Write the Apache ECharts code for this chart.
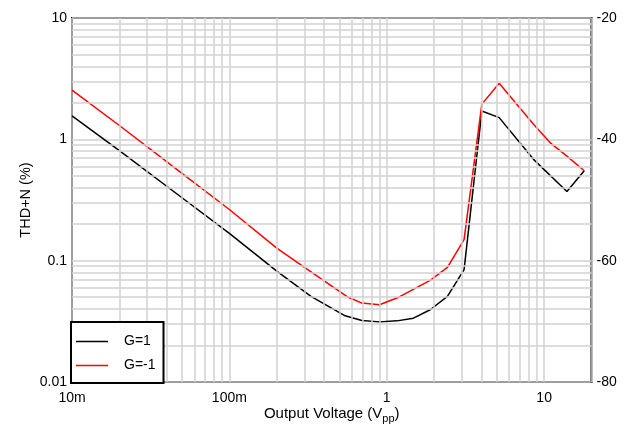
<!DOCTYPE html>
<html><head><meta charset="utf-8">
<script src="https://cdn.jsdelivr.net/npm/echarts@6/dist/echarts.min.js"></script>
<style>html,body{margin:0;padding:0;background:#fff}#c{width:628px;height:427px}</style>
</head><body><div id="c"></div>
<script>
// Output voltage (Vpp) and THD+N (%) for each gain
const voltsG1 = [0.01, 0.02, 0.05, 0.1, 0.2, 0.33, 0.544, 0.695, 0.899, 1.16, 1.478, 1.888, 2.43, 3.10, 4.02, 5.18, 8.56, 13.96, 17.98];
const thdG1   = [1.56, 0.807, 0.33, 0.168, 0.082, 0.0507, 0.0351, 0.0321, 0.0313, 0.0319, 0.0336, 0.0394, 0.0507, 0.0843, 1.71, 1.51, 0.684, 0.372, 0.551];
const voltsGm1 = [0.01, 0.02, 0.05, 0.1, 0.2, 0.3, 0.557, 0.695, 0.899, 1.16, 1.888, 2.43, 3.10, 4.02, 5.18, 8.56, 10.9, 13.96, 17.98];
const thdGm1   = [2.54, 1.30, 0.524, 0.264, 0.127, 0.088, 0.0507, 0.0447, 0.0433, 0.0492, 0.0687, 0.088, 0.149, 1.95, 2.90, 1.33, 0.94, 0.728, 0.551];

const xTickValues = [0.01, 0.1, 1, 10];
const xTickLabels = ['10m', '100m', '1', '10'];
const yTickValues = [0.01, 0.1, 1, 10];
const yTickLabels = ['0.01', '0.1', '1', '10'];
const dbTicks = [-80, -60, -40, -20];

const X_MIN = 0.01, X_MAX = 20, Y_MIN = 0.01, Y_MAX = 10;

function pair(xs, ys) { return xs.map((x, i) => [x, ys[i]]); }
function logFmt(vals, labels) {
  return function (v) {
    const l = Math.log10(v), e = Math.round(l);
    if (Math.abs(l - e) > 1e-6) return '';
    const i = vals.findIndex(t => Math.abs(Math.log10(t) - e) < 1e-6);
    return i < 0 ? '' : labels[i];
  };
}
// minor log grid lines (2..9 per decade)
const minorLines = [];
for (let d = X_MIN; d < X_MAX; d *= 10) {
  for (let m = 2; m <= 9; m++) { const v = d * m; if (v < X_MAX - 1e-9) minorLines.push({ xAxis: v }); }
}
for (let d = Y_MIN; d < Y_MAX; d *= 10) {
  for (let m = 2; m <= 9; m++) { const v = d * m; if (v < Y_MAX) minorLines.push({ yAxis: v }); }
}

const gridColor = '#d2d2d2';
const font = 'Liberation Sans, Arial, sans-serif';
const chart = echarts.init(document.getElementById('c'), null, { renderer: 'canvas' });
chart.setOption({
  animation: false,
  backgroundColor: '#fff',
  textStyle: { fontFamily: font },
  grid: { left: 72, right: 36.5, top: 18, bottom: 45, outerBoundsMode: 'none', containLabel: false,
    show: true, borderColor: '#000', borderWidth: 2, backgroundColor: 'transparent' },
  legend: {
    orient: 'vertical', left: 71, top: 322,
    data: ['G=1', 'G=-1'],
    icon: 'rect',
    itemWidth: 32, itemHeight: 1.5, itemGap: 7,
    padding: [11, 8, 9, 5],
    backgroundColor: '#fff', borderColor: '#000', borderWidth: 2,
    textStyle: { fontFamily: font, fontSize: 14, color: '#000', padding: [0, 0, 0, 11], lineHeight: 17 },
    z: 10
  },
  xAxis: {
    type: 'log', logBase: 10, min: X_MIN, max: X_MAX,
    name: 'Output Voltage (V{sub|pp})', nameLocation: 'middle', nameGap: 21, nameMoveOverlap: false,
    nameTextStyle: { fontFamily: font, fontSize: 15, color: '#000',
      rich: { sub: { fontFamily: font, fontSize: 11, color: '#000', padding: [10, 0, 0, 0] } } },
    axisLine: { show: false }, axisTick: { show: false },
    axisLabel: { formatter: logFmt(xTickValues, xTickLabels), fontSize: 14, color: '#000', margin: 9, fontFamily: font, showMaxLabel: false },
    splitLine: { show: true, lineStyle: { color: gridColor, width: 1.5 } }
  },
  yAxis: [{
    type: 'log', logBase: 10, min: Y_MIN, max: Y_MAX,
    name: 'THD+N (%)', nameLocation: 'middle', nameGap: 39, nameMoveOverlap: false,
    nameTextStyle: { fontFamily: font, fontSize: 14.5, color: '#000' },
    axisLine: { show: false }, axisTick: { show: false },
    axisLabel: { formatter: logFmt(yTickValues, yTickLabels), fontSize: 14, color: '#000', margin: 5, fontFamily: font },
    splitLine: { show: true, lineStyle: { color: gridColor, width: 1.5 } }
  }, {
    type: 'value', position: 'right', min: dbTicks[0], max: dbTicks[dbTicks.length - 1], interval: 20,
    axisLine: { show: false }, axisTick: { show: false }, splitLine: { show: false },
    axisLabel: { fontSize: 14, color: '#000', margin: 5, fontFamily: font }
  }],
  series: [{
    name: 'grid', type: 'line', data: [], z: 1, silent: true,
    markLine: { silent: true, symbol: 'none', label: { show: false }, animation: false,
      lineStyle: { color: gridColor, width: 1.5, type: 'solid' }, emphasis: { disabled: true },
      data: minorLines }
  }, {
    name: 'G=1', type: 'line', data: pair(voltsG1, thdG1), symbol: 'none', z: 3,
    lineStyle: { color: '#000', width: 1.5 }, itemStyle: { color: '#000' }
  }, {
    name: 'G=-1', type: 'line', data: pair(voltsGm1, thdGm1), symbol: 'none', z: 3,
    lineStyle: { color: '#ff0000', width: 1.5 }, itemStyle: { color: '#ff0000' }
  }]
});
</script></body></html>
